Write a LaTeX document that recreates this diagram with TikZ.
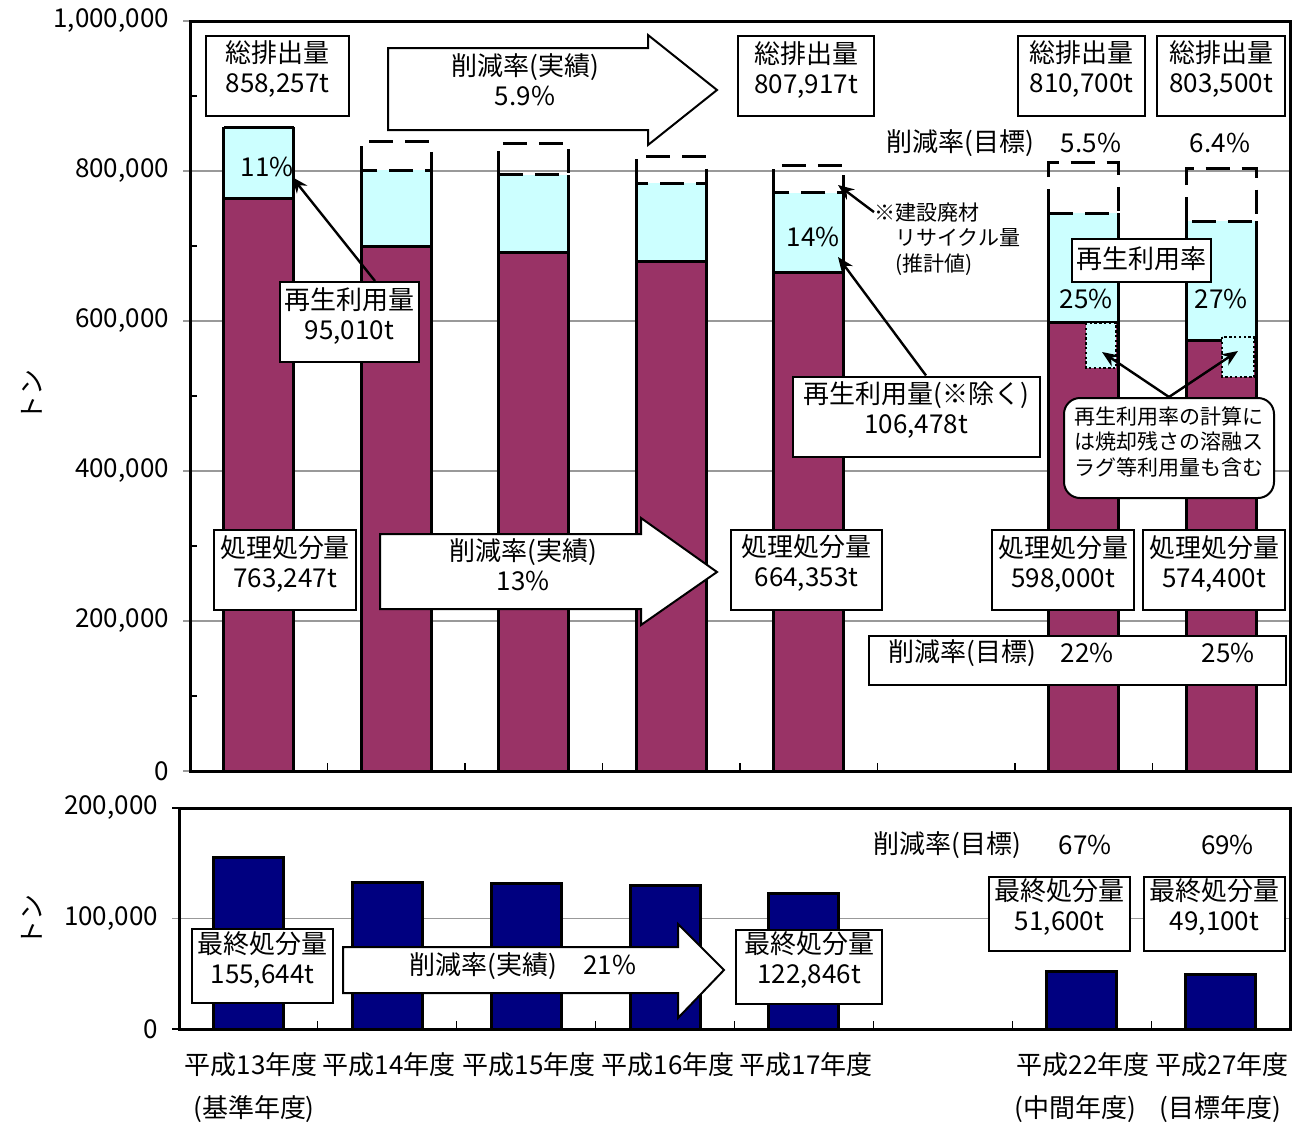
\documentclass[tikz,border=0pt]{standalone}
\usepackage{fontspec}
\setmainfont{Noto Sans CJK JP}
\usetikzlibrary{arrows.meta}

\definecolor{shori}{HTML}{993366}
\definecolor{saisei}{HTML}{CCFFFF}
\definecolor{saishu}{HTML}{000080}

\tikzset{
  jp/.style={font=\fontsize{13}{15}\selectfont},
  jpsmall/.style={font=\fontsize{10.5}{12.8}\selectfont},
  valbox/.style={draw, line width=1pt, fill=white, align=center, jp,
                 minimum height=40pt, inner xsep=2pt, inner ysep=1pt, text depth=8.5pt},
  grid line/.style={gray!80, line width=0.6pt},
  frame line/.style={line width=1.5pt},
  barline/.style={line width=1.5pt},
  target box/.style={line width=1.5pt, dash pattern=on 12pt off 6pt},
  slag box/.style={fill=saisei, line width=1.2pt, dash pattern=on 1.2pt off 1.2pt},
  block arrow/.style={draw, fill=white, line width=1pt},
  pointer/.style={-{Stealth[length=8pt,width=6.5pt]}, line width=1.2pt},
}

\begin{document}
\begin{tikzpicture}[x=0.5pt, y=-0.5pt]
\useasboundingbox (0,0) rectangle (1292,1126);

% ===== upper chart: total, recycled and treated amounts =====
% grid lines, ticks and labels
\foreach \v in {0,200,400,600,800,1000}
  \draw[grid line] (183,{771-0.75*\v}) -- (1290,{771-0.75*\v});
\foreach \v in {100,300,500,700,900}
  \draw[line width=0.6pt] (190,{771-0.75*\v}) -- (197,{771-0.75*\v});
\foreach \i in {1,...,7}
  \draw[line width=0.6pt] ({190+137.5*\i},771) -- ({190+137.5*\i},763);
\foreach \v/\t in {0/0, 200/{200,000}, 400/{400,000}, 600/{600,000}, 800/{800,000}, 1000/{1,000,000}}
  \node[jp, anchor=east] (ty\v) at (176,{771-0.75*\v}) {\t};
\node[jp, rotate=90] (unittop) at (32,395) {トン};

% bars (in 1000 t): treated / total incl. recycling / total incl. construction waste
\foreach \cx/\p/\c/\d in {258.75/763.247/858.257/858.257, 396.25/698.7/801.3/838.7,
    533.75/692.0/794.7/837.3, 671.25/678.7/784.0/818.7, 808.75/664.353/770.831/807.917,
    1083.75/598.0/744.0/810.7, 1221.25/574.4/733.3/803.5}{
  \fill[shori] ({\cx-35},771) rectangle ({\cx+35},{771-0.75*\p});
  \fill[saisei] ({\cx-35},{771-0.75*\p}) rectangle ({\cx+35},{771-0.75*\c});
  \draw[barline] ({\cx-35},{771-0.75*\c}) -- ({\cx-35},771) -- ({\cx+35},771) -- ({\cx+35},{771-0.75*\c})
                 ({\cx-35},{771-0.75*\p}) -- ({\cx+35},{771-0.75*\p});
  \pgfmathtruncatemacro\goal{\d>\c}
  \ifnum\goal=1
    \draw[target box] ({\cx-35},{771-0.75*\c}) rectangle ({\cx+35},{771-0.75*\d});
  \else
    \draw[barline] ({\cx-35},{771-0.75*\c}) -- ({\cx+35},{771-0.75*\c});
  \fi
}
% slag share
\draw[slag box] (1086,323) rectangle (1116,368);
\draw[slag box] (1222,337) rectangle (1254,377);

\draw[frame line] (190,21) rectangle (1290,771);

% totals
\node[valbox, minimum width=71.5pt] (tot13) at (277.5,75.5) {総排出量\\858,257t};
\node[valbox, minimum width=68pt] (tot17) at (806,76) {総排出量\\807,917t};
\node[valbox, minimum width=63.5pt] (tot22) at (1081.5,75.5) {総排出量\\810,700t};
\node[valbox, minimum width=64pt] (tot27) at (1221,75.5) {総排出量\\803,500t};

% actual reduction of total
\draw[block arrow] (388,48) -- (648,48) -- (648,35) -- (717,90) -- (648,145) -- (648,130) -- (388,130) -- cycle;
\node[jp, align=center] (cuttot) at (525,80) {削減率(実績)\\5.9\%};

% targets of total
\node[jp] (goaltot) at (960,143) {削減率(目標)};
\node[jp] (goaltot22) at (1091,143) {5.5\%};
\node[jp] (goaltot27) at (1220,143) {6.4\%};

% recycling shares
\node[jp] (r13) at (267,167) {11\%};
\node[jp] (r17) at (813,237) {14\%};
\node[jp] (r22) at (1086,299) {25\%};
\node[jp] (r27) at (1221,299) {27\%};

% recycled amounts
\coordinate (p13) at (292,177);
\coordinate (p17) at (838,257);
\coordinate (c17) at (838,185);
\coordinate (s22) at (1102,352);
\coordinate (s27) at (1238,351);
\node[valbox, minimum width=69.5pt] (rec13) at (349.5,322) {再生利用量\\95,010t};
\draw[pointer] ([xshift=12.75pt]rec13.north) -- (p13);
\node[valbox, minimum width=123.5pt] (rec17) at (916,416.5) {再生利用量(※除く)\\106,478t};
\draw[pointer] ([xshift=5pt]rec17.north) -- (p17);
\node[jpsmall, align=left, anchor=west, inner sep=0pt] (note17) at (874,239)
  {※建設廃材\\\hspace*{1em}リサイクル量\\\hspace*{1em}(推計値)};
\draw[pointer] ([yshift=-5pt]note17.north west) -- (c17);

\node[valbox, minimum width=69.5pt, minimum height=21.5pt, text depth=3pt] (ratio) at (1141.5,260.5) {再生利用率};
\node[draw, line width=1pt, fill=white, rounded corners=8pt, align=center, jpsmall,
      minimum width=105pt, minimum height=50pt, inner sep=1pt, text depth=7pt] (slag) at (1169,448)
  {再生利用率の計算に\\は焼却残さの溶融ス\\ラグ等利用量も含む};
\draw[pointer] (slag.north) -- (s22);
\draw[pointer] (slag.north) -- (s27);

% treated amounts
\node[valbox, minimum width=71pt] (sho13) at (285,570) {処理処分量\\763,247t};
\draw[block arrow] (380,534) -- (641,534) -- (641,518) -- (717,572) -- (641,625) -- (641,609) -- (380,609) -- cycle;
\node[jp, align=center] (cutsho) at (523,565) {削減率(実績)\\13\%};
\node[valbox, minimum width=75.5pt] (sho17) at (806.5,569.5) {処理処分量\\664,353t};
\node[valbox, minimum width=71pt] (sho22) at (1063,570) {処理処分量\\598,000t};
\node[valbox, minimum width=71pt] (sho27) at (1214,570) {処理処分量\\574,400t};
\node[draw, line width=1pt, fill=white, minimum width=208.5pt, minimum height=24.5pt] (goalsho) at (1077.5,660.5) {};
\node[jp] (goalsholbl) at (962.5,653) {削減率(目標)};
\node[jp] (goalsho22) at (1087,653) {22\%};
\node[jp] (goalsho27) at (1228,653) {25\%};

% ===== lower chart: final disposal =====
\draw[grid line] (172,918.5) -- (1290,918.5);
\draw[line width=0.6pt] (172,808) -- (179,808) (172,1029) -- (179,1029);
\foreach \i in {1,...,7}
  \draw[line width=0.6pt] ({179+138.875*\i},1029) -- ({179+138.875*\i},1021);
\foreach \v/\t in {0/0, 100/{100,000}, 200/{200,000}}
  \node[jp, anchor=east] (tb\v) at (165,{1029-1.105*\v}) {\t};
\node[jp, rotate=90] (unitbot) at (32,920) {トン};

\foreach \cx/\f in {248.4/155.644, 387.3/133.0, 526.2/132.1, 665.1/130.3, 803.9/122.846,
    1081.7/51.6, 1220.6/49.1}
  \draw[barline, fill=saishu] ({\cx-35},1029) rectangle ({\cx+35},{1029-1.105*\f});

\draw[frame line] (179,808) rectangle (1290,1029);

\node[valbox, minimum width=70.5pt, minimum height=37pt] (fin13) at (262.5,966) {最終処分量\\155,644t};
\draw[block arrow] (343,947) -- (678,947) -- (678,924) -- (724,970) -- (678,1018) -- (678,993) -- (343,993) -- cycle;
\node[jp] (cutfin) at (523,966) {削減率(実績)\quad 21\%};
\node[valbox, minimum width=73pt, minimum height=37pt] (fin17) at (809,966.5) {最終処分量\\122,846t};
\node[valbox, minimum width=70.5pt, minimum height=37pt] (fin22) at (1059.5,913.5) {最終処分量\\51,600t};
\node[valbox, minimum width=70.5pt, minimum height=37pt] (fin27) at (1214.5,913.5) {最終処分量\\49,100t};
\node[jp] (goalfin) at (947,845) {削減率(目標)};
\node[jp] (goalfin22) at (1085,845) {67\%};
\node[jp] (goalfin27) at (1227.5,845) {69\%};

% years
\foreach \cx/\yr [count=\k] in {251/13, 389/14, 529/15, 668/16, 806/17, 1083/22, 1222/27}
  \node[jp] (year\k) at (\cx,1065) {平成\yr 年度};
\node[jp] (base) at (254,1109) {(基準年度)};
\node[jp] (mid) at (1075,1109) {(中間年度)};
\node[jp] (goal) at (1220,1109) {(目標年度)};

\end{tikzpicture}
\end{document}
